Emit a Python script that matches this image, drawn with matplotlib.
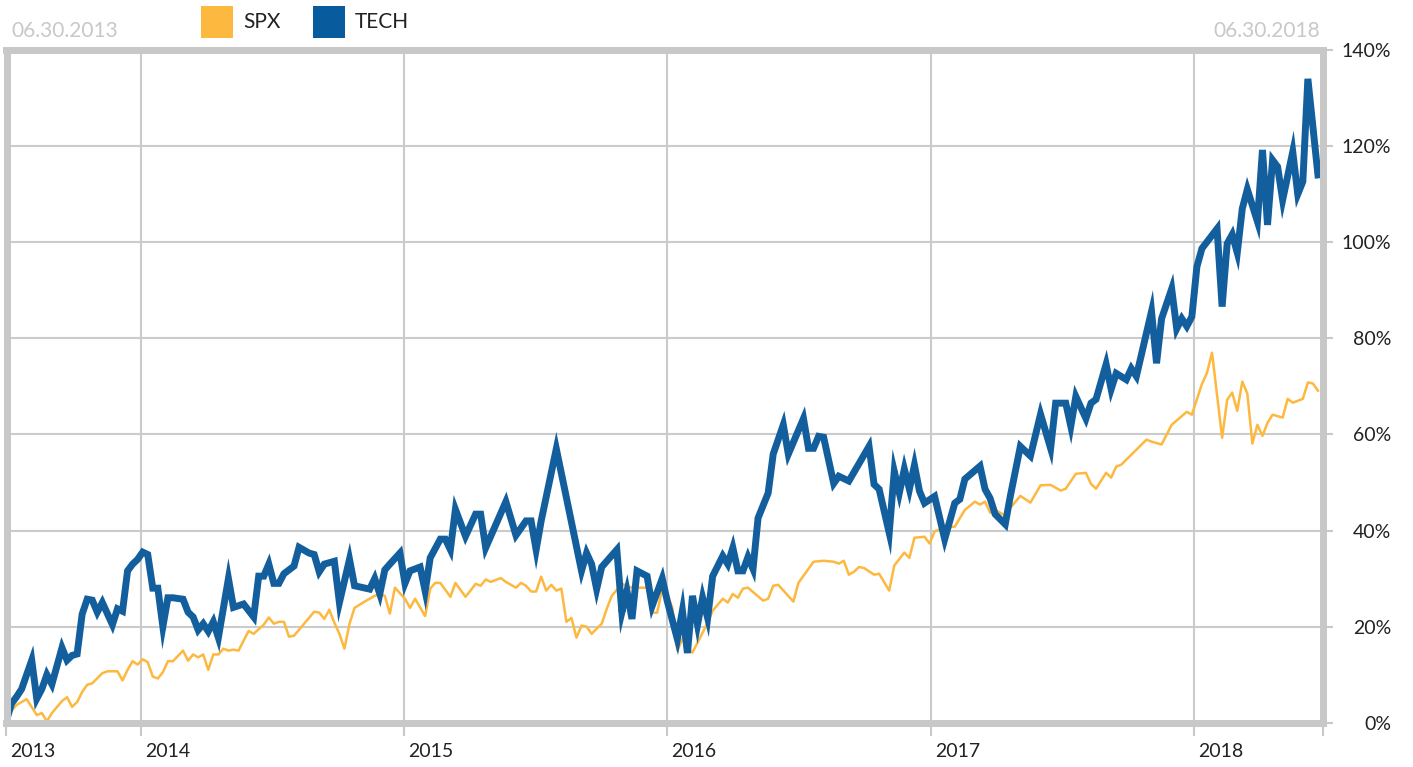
import numpy as np
import pandas as pd
import matplotlib
matplotlib.use("Agg")
import matplotlib.pyplot as plt
from matplotlib.patches import Rectangle
from matplotlib.ticker import FuncFormatter

plt.rcParams["font.family"] = ["Lato", "DejaVu Sans"]

# weekly closes, counted in weeks from the first Friday (06.28.2013)
start = pd.Timestamp("2013-06-28")
end = pd.Timestamp("2018-06-29")

tech_week = [0, 1, 2, 3, 5, 6, 7, 8, 9, 11, 12, 13, 14, 15, 16, 17, 18, 19, 21, 22,
             23, 24, 25, 26, 27, 28, 29, 30, 31, 32, 33, 35, 36, 37, 38, 39, 40, 41, 42, 44,
             45, 47, 49, 50, 51, 52, 53, 54, 55, 57, 58, 60, 61, 62, 63, 65, 66, 68, 69, 72,
             73, 74, 75, 76, 78, 79, 80, 82, 83, 84, 86, 87, 88, 89, 91, 93, 94, 95, 99, 101,
             103, 104, 105, 106, 109, 114, 115, 116, 117, 118, 121, 122, 123, 124, 125, 127, 128, 130, 131, 133,
             134, 135, 136, 137, 138, 139, 140, 142, 143, 144, 145, 146, 147, 148, 149, 151, 152, 154, 155, 158,
             159, 160, 161, 162, 164, 165, 167, 171, 172, 173, 175, 176, 177, 178, 179, 180, 181, 182, 184, 186,
             188, 189, 190, 193, 194, 195, 196, 198, 199, 201, 203, 205, 207, 208, 210, 211, 212, 214, 215, 216,
             218, 219, 220, 222, 223, 224, 227, 228, 229, 231, 232, 233, 234, 235, 236, 237, 240, 241, 242, 243,
             244, 245, 246, 248, 249, 250, 251, 252, 253, 255, 256, 257, 258, 260]
tech_value = [0.5, 4, 5.4, 7, 13, 5, 7, 10, 8, 15.6, 13, 14, 14.3, 22.6, 25.7, 25.5, 23, 25, 20.4, 23.7,
              23.2, 31.6, 33, 34, 35.5, 35, 28, 28, 20, 26, 26, 25.7, 23, 22, 19.3, 20.6, 19, 21, 17.7, 30,
              24, 24.7, 22, 30.5, 30.5, 33, 29, 29, 31, 32.6, 36.5, 35.3, 35, 31.4, 33, 33.6, 25, 34, 28.5, 27.8,
              30, 26.8, 31.8, 33, 35.3, 29, 31.6, 32.4, 27.4, 34.3, 38.2, 38.2, 36, 44.4, 38.8, 43.4, 43.4, 36.4, 46, 39,
              42, 42, 36, 42, 57, 31.6, 35.3, 33, 27.8, 32.4, 36, 23, 27.4, 21.6, 31.6, 30.5, 24.3, 30, 25.3, 17.4,
              23.3, 14.5, 26.4, 20.4, 26, 21.8, 30.5, 34.7, 33, 36.4, 31.6, 31.6, 34.5, 32, 42.6, 47.8, 55.9, 62, 55.9, 63.3,
              57.1, 57.1, 59.6, 59.4, 49.8, 51.3, 50.3, 57.5, 49.6, 48.6, 39.5, 52.3, 47.8, 52.8, 48.6, 53.6, 48.2, 45.7, 47.1, 38.2,
              45.7, 46.5, 50.7, 53.4, 48.6, 46.7, 43.4, 41.3, 47.1, 57.5, 55.5, 64.2, 57.1, 66.5, 66.5, 61.7, 67.9, 63.3, 66.5, 67.3,
              74.6, 69.4, 72.7, 71.4, 73.7, 72.1, 85.6, 74.8, 84.1, 90.3, 82, 84.1, 82.5, 84.5, 94.9, 98.7, 102.8, 86.6, 99.7, 101.6,
              97.8, 107, 111, 104.3, 119.2, 103.6, 117.1, 115.7, 108.8, 118.8, 110, 112.6, 134, 114]

spx_week = [0, 1, 2, 4, 6, 7, 8, 9, 11, 12, 13, 14, 15, 16, 17, 19, 20, 22, 23, 24,
            25, 26, 27, 28, 29, 30, 31, 32, 33, 35, 36, 37, 38, 39, 40, 41, 42, 43, 44, 45,
            46, 48, 49, 51, 52, 53, 54, 55, 56, 57, 59, 61, 62, 63, 64, 65, 66, 67, 68, 69,
            71, 73, 74, 75, 76, 77, 79, 80, 81, 83, 84, 85, 86, 88, 89, 91, 92, 93, 94, 95,
            96, 98, 99, 101, 102, 103, 104, 105, 106, 107, 108, 109, 110, 111, 112, 113, 114, 115, 116, 118,
            119, 120, 122, 124, 126, 127, 128, 129, 130, 131, 132, 133, 134, 135, 136, 139, 140, 142, 143, 144,
            145, 146, 147, 150, 151, 152, 153, 156, 157, 160, 162, 164, 165, 166, 167, 168, 169, 170, 172, 173,
            175, 176, 178, 179, 180, 182, 183, 184, 186, 188, 190, 192, 193, 194, 195, 196, 198, 199, 201, 203,
            205, 207, 209, 210, 212, 214, 215, 216, 218, 219, 220, 221, 226, 227, 229, 231, 234, 235, 237, 238,
            239, 241, 242, 243, 244, 245, 246, 247, 248, 249, 250, 251, 253, 254, 255, 257, 258, 259, 260]
spx_value = [0.3, 2.5, 3.7, 4.9, 1.6, 2, 0.3, 2, 4.5, 5.3, 3.3, 4.3, 6.4, 7.9, 8.2, 10.3, 10.7, 10.7, 8.8, 11,
             12.8, 12.1, 13.2, 12.6, 9.6, 9.2, 10.5, 12.8, 12.8, 15, 12.9, 14.2, 13.6, 14.2, 11, 14.2, 14.2, 15.4, 15, 15.2,
             15, 19.1, 18.5, 20.4, 21.9, 20.6, 21, 21, 17.9, 18.1, 20.6, 23.1, 22.9, 21.6, 23.5, 20.8, 18.5, 15.4, 20.6, 23.9,
             25.2, 26.4, 26.8, 26.4, 22.7, 28.1, 25.8, 23.9, 25.8, 22.2, 27.9, 29.1, 29.1, 26.2, 29.1, 26.2, 27.5, 28.9, 28.5, 29.8,
             29.3, 30.1, 29.3, 28.1, 29.1, 28.5, 27.3, 27.3, 30.4, 27.5, 28.7, 27.5, 27.9, 21, 21.8, 17.7, 20.2, 20, 18.5, 20.6,
             23.7, 26.4, 28.9, 28.1, 28.1, 28.1, 22.9, 22.9, 27.9, 26.8, 23.9, 15, 17.5, 15.4, 14.6, 20.8, 23.3, 25.8, 25, 26.8,
             26, 27.9, 28.1, 25.4, 25.8, 28.5, 28.7, 25.2, 29.1, 33.5, 33.7, 33.5, 33.1, 33.7, 30.8, 31.4, 32.4, 32.2, 30.8, 31,
             27.5, 32.7, 35.4, 34.3, 38.5, 38.7, 37.3, 39.8, 40.6, 40.8, 44.3, 46, 45.4, 46, 43.7, 44.3, 43.1, 44.7, 47.2, 45.8,
             49.4, 49.5, 48.3, 48.7, 51.8, 52, 49.7, 48.7, 52, 51, 53.3, 53.7, 58.9, 58.5, 57.9, 62, 64.7, 64.1, 70.5, 72.8,
             77, 59.3, 67.2, 68.7, 64.9, 71, 68.5, 58.1, 62, 59.7, 62.4, 64.1, 63.5, 67.4, 66.6, 67.4, 70.8, 70.6, 69.1]

years = ["2013", "2014", "2015", "2016", "2017", "2018"]
y_ticks = [0, 20, 40, 60, 80, 100, 120, 140]

SPX_COLOR = "#fdb83f"
TECH_COLOR = "#135f9e"
GRID = "#cbcbcb"
FRAME = "#c8c8c8"


def to_dates(weeks):
    return start + pd.to_timedelta(np.array(weeks) * 7, unit="D")


fig = plt.figure(figsize=(14.13, 7.67), dpi=100)
W, H = 1413, 767
ax = fig.add_axes([6.5 / W, 1 - 722.7 / H, (1323 - 6.5) / W, (722.7 - 50) / H])

ax.plot(to_dates(spx_week), spx_value, color=SPX_COLOR, lw=1.8, zorder=2)
ax.plot(to_dates(tech_week), tech_value, color=TECH_COLOR, lw=5.0,
        solid_joinstyle="miter", zorder=2.2)

ax.set_xlim(start, end)
ax.set_ylim(0, 140)

year_pos = [start] + [pd.Timestamp(f"{y}-01-01") for y in years[1:]]
ax.set_xticks(year_pos + [end])
ax.set_xticklabels([])
ax.tick_params(axis="x", length=9, width=1.5, color=FRAME)
for pos, lab in zip(year_pos, years):
    ax.text(pos, -0.03, lab, transform=ax.get_xaxis_transform(), ha="left", va="top",
            fontsize=14, color="#222222")
# shift labels a few pixels right of their tick
from matplotlib.transforms import ScaledTranslation
shift = ScaledTranslation(4 / 100, 0, fig.dpi_scale_trans)
for t in ax.texts:
    t.set_transform(t.get_transform() + shift)

ax.yaxis.tick_right()
ax.set_yticks(y_ticks)
ax.yaxis.set_major_formatter(FuncFormatter(lambda v, p: f"{v:.0f}%"))
ax.tick_params(axis="y", length=7, width=1.5, color=FRAME, labelsize=14,
               labelcolor="#222222", pad=42)
for t in ax.get_yticklabels():
    t.set_horizontalalignment("right")

ax.grid(True, color=GRID, lw=1.5)
ax.set_axisbelow(True)
for s in ax.spines.values():
    s.set_color(FRAME)
    s.set_linewidth(5)

# date range labels above the frame
fig.text(11 / W, 1 - 31 / H, "06.30.2013", fontsize=15, color="#c8c8c8", ha="left", va="center")
fig.text(1320 / W, 1 - 31 / H, "06.30.2018", fontsize=15, color="#c8c8c8", ha="right", va="center")

# legend
for x0, col, lab in [(201, "#fdb93f", "SPX"), (313, "#085c9e", "TECH")]:
    fig.add_artist(Rectangle((x0 / W, 1 - 38 / H), 32 / W, 32 / H, transform=fig.transFigure,
                             facecolor=col, edgecolor="none"))
    fig.text((x0 + 42) / W, 1 - 22.5 / H, lab, fontsize=15, color="#222222", ha="left", va="center")

fig.savefig("out.png", dpi=100)
